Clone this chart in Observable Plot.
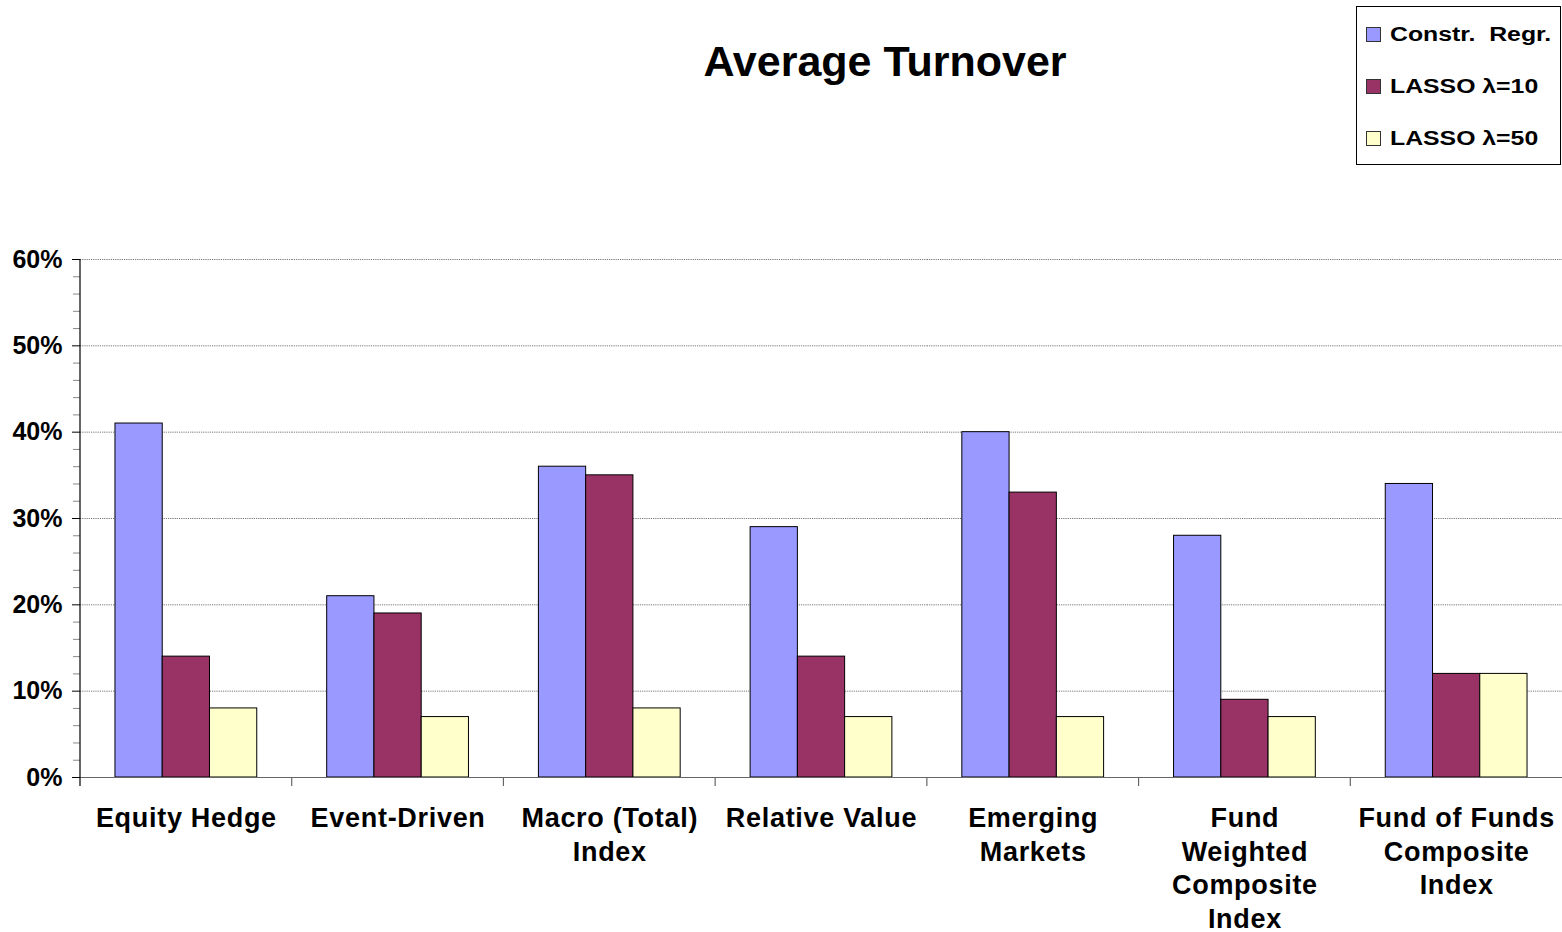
<!DOCTYPE html>
<html>
<head>
<meta charset="utf-8">
<script src="https://cdn.jsdelivr.net/npm/d3@7"></script>
<script src="https://cdn.jsdelivr.net/npm/@observablehq/plot@0.6"></script>
<style>
  html, body { margin: 0; padding: 0; background: #fff; }
  #wrap { position: relative; width: 1562px; height: 932px; font-family: "Liberation Sans", Arial, sans-serif; }
  #title { position: absolute; left: 0; top: 40px; width: 1770px; text-align: center; font-size: 43px; line-height: 43px; font-weight: bold; color: #000; }
  #legend { position: absolute; left: 1356px; top: 6px; width: 203px; height: 157px; border: 1px solid #000; background: #fff; }
  .item { position: absolute; left: 9px; height: 26px; display: flex; align-items: center; font-size: 20px; font-weight: bold; white-space: pre; }
  .sw { width: 13px; height: 13px; border: 1px solid #333; margin-right: 9px; flex: none; }
  .lt { display: inline-block; transform: scaleX(1.24); transform-origin: left center; }
  #chart { position: absolute; left: 0; top: 0; }
  .xlab text { letter-spacing: 0.7px; }
</style>
</head>
<body>
<div id="wrap">
  <div id="chart"></div>
  <div id="title">Average Turnover</div>
  <div id="legend"></div>
</div>
<script>
// Categories along the x axis and their (wrapped) tick labels
const categories = ["Equity Hedge", "Event-Driven", "Macro (Total) Index", "Relative Value", "Emerging Markets", "Fund Weighted Composite Index", "Fund of Funds Composite Index"];
const categoryLabels = ["Equity Hedge", "Event-Driven", "Macro (Total)\nIndex", "Relative Value", "Emerging\nMarkets", "Fund\nWeighted\nComposite\nIndex", "Fund of Funds\nComposite\nIndex"];

// Series names and colours
const seriesNames = ["Constr.  Regr.", "LASSO λ=10", "LASSO λ=50"];
const seriesColors = ["#9999FF", "#993366", "#FFFFCC"];

// Average turnover per series, one value per category
const constrRegr = [0.41, 0.21, 0.36, 0.29, 0.40, 0.28, 0.34];
const lasso10    = [0.14, 0.19, 0.35, 0.14, 0.33, 0.09, 0.12];
const lasso50    = [0.08, 0.07, 0.08, 0.07, 0.07, 0.07, 0.12];

// Y axis ticks
const yMajorTicks = [0, 0.1, 0.2, 0.3, 0.4, 0.5, 0.6];
const yTickLabels = ["0%", "10%", "20%", "30%", "40%", "50%", "60%"];
const yMinorTicks = [0.02, 0.04, 0.06, 0.08, 0.12, 0.14, 0.16, 0.18, 0.22, 0.24, 0.26, 0.28, 0.32, 0.34, 0.36, 0.38, 0.42, 0.44, 0.46, 0.48, 0.52, 0.54, 0.56, 0.58];

const seriesValues = [constrRegr, lasso10, lasso50];
const rows = [];
categories.forEach((c, i) => {
  seriesNames.forEach((s, j) => rows.push({category: c, series: s, value: seriesValues[j][i]}));
});
const labelOf = new Map(categories.map((c, i) => [c, categoryLabels[i]]));

const chart = Plot.plot({
  width: 1562,
  height: 932,
  marginTop: 259,
  marginBottom: 155,
  marginLeft: 80,
  marginRight: 0,
  style: {fontFamily: "'Liberation Sans', Arial, sans-serif", background: "transparent", overflow: "visible"},
  fx: {domain: categories, paddingInner: 0, paddingOuter: 0, round: false, label: null},
  x: {domain: seriesNames, paddingInner: 0, paddingOuter: 0.74, round: false, axis: null},
  y: {domain: [0, 0.6], label: null},
  color: {domain: seriesNames, range: seriesColors},
  marks: [
    Plot.gridY(yMajorTicks, {stroke: "#777", strokeOpacity: 1, strokeDasharray: "1.2,1"}),
    Plot.barY(rows, {fx: "category", x: "series", y: "value", fill: "series", stroke: "#000", strokeWidth: 1}),
    Plot.ruleY([0], {stroke: "#666", strokeWidth: 1.2}),
    Plot.axisY(yMinorTicks, {tickSize: 7, stroke: "#888", tickFormat: () => "", label: null}),
    Plot.axisY(yMajorTicks, {
      tickSize: 8, tickPadding: 10, stroke: "#000",
      tickFormat: d => yTickLabels[yMajorTicks.indexOf(d)],
      fontSize: 25, fontWeight: "bold", fill: "#000", label: null
    }),
    Plot.axisFx({
      anchor: "bottom", tickSize: 0, tickPadding: 26,
      tickFormat: c => labelOf.get(c), className: "xlab",
      fontSize: 27, fontWeight: "bold", fill: "#000", lineHeight: 1.24, label: null
    })
  ]
});

// Vertical axis line and category separator ticks, placed with the chart's own scales
const fx = chart.scale("fx");
const y = chart.scale("y");
const svg = d3.select(chart);
const y0 = y.apply(0), yTop = y.apply(0.6);
const edges = categories.map(c => fx.apply(c));
const g = svg.append("g");
g.append("line")
  .attr("x1", edges[0]).attr("x2", edges[0])
  .attr("y1", yTop).attr("y2", y0 + 9)
  .attr("stroke", "#000").attr("stroke-width", 1.2);
edges.slice(1).forEach(x => {
  g.append("line")
    .attr("x1", x).attr("x2", x)
    .attr("y1", y0).attr("y2", y0 + 9)
    .attr("stroke", "#666").attr("stroke-width", 1.2);
});

document.getElementById("chart").appendChild(chart);

// Legend
const legend = document.getElementById("legend");
const centers = [27, 79, 131];
seriesNames.forEach((s, i) => {
  const item = document.createElement("div");
  item.className = "item";
  item.style.top = (centers[i] - 13) + "px";
  const sw = document.createElement("span");
  sw.className = "sw";
  sw.style.background = seriesColors[i];
  const t = document.createElement("span");
  t.className = "lt";
  t.textContent = s;
  item.appendChild(sw);
  item.appendChild(t);
  legend.appendChild(item);
});
</script>
</body>
</html>
